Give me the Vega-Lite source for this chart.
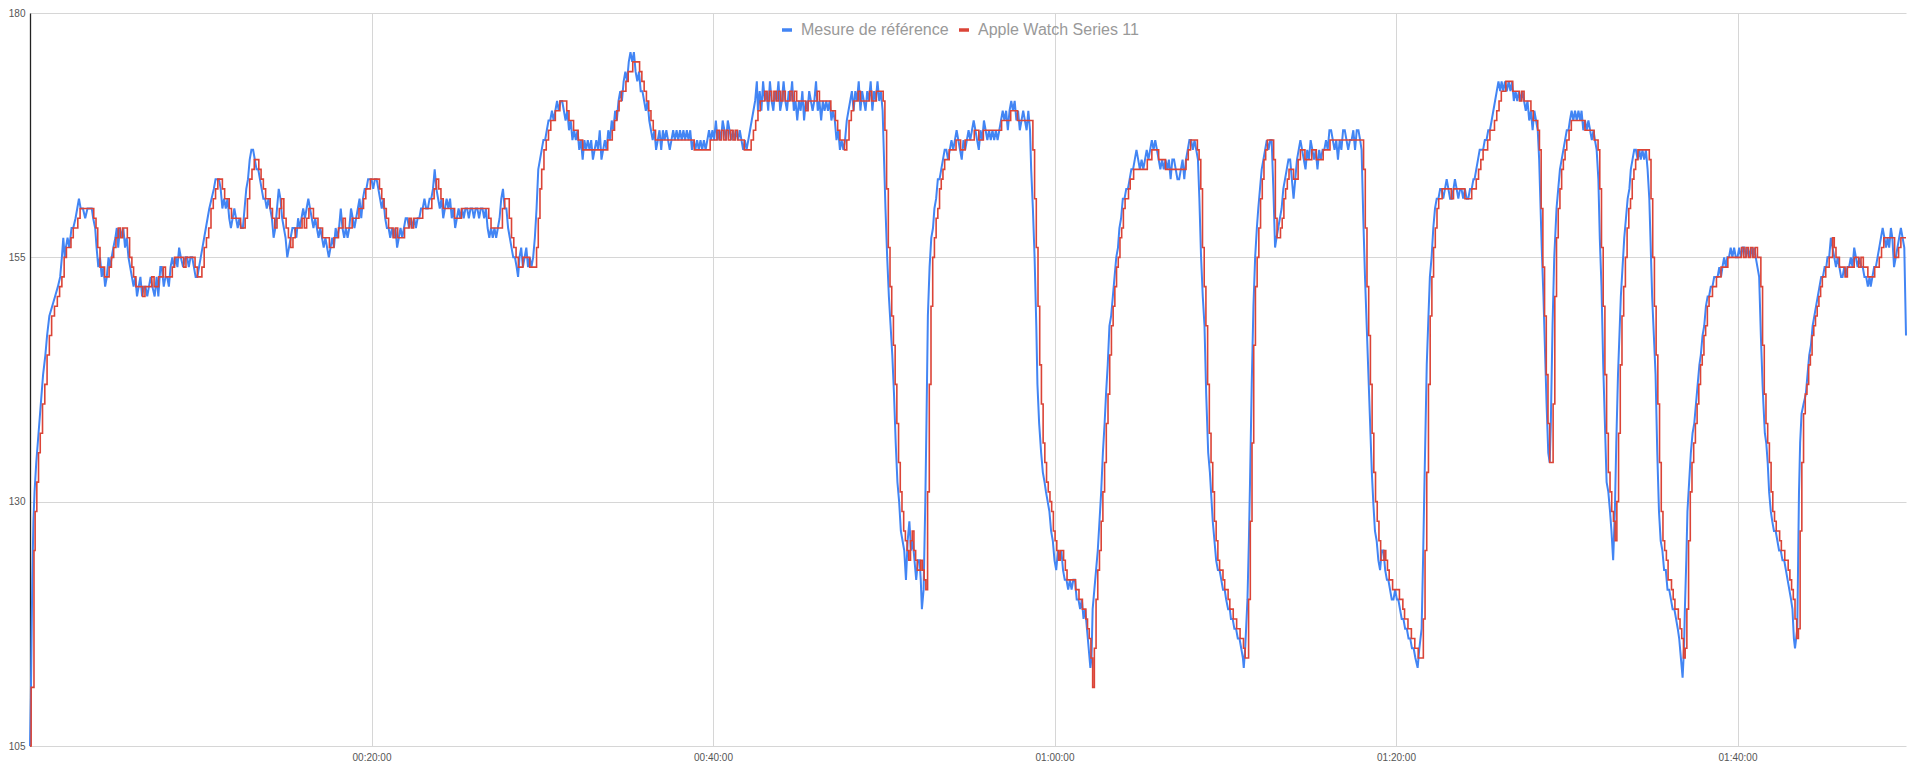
{
  "$schema": "https://vega.github.io/schema/vega-lite/v6.json",
  "width": 1876,
  "height": 733,
  "autosize": {"type": "none"},
  "padding": {"left": 30, "top": 13, "right": 14, "bottom": 19},
  "background": "#ffffff",
  "datasets": {
    "ref": [
      {"t":0,"v":105},{"t":3,"v":110},{"t":8,"v":122},{"t":12,"v":128},{"t":16,"v":131},{"t":22,"v":134},{"t":30,"v":137},{"t":38,"v":140},{"t":46,"v":143},{"t":54,"v":145},{"t":60,"v":147},{"t":68,"v":149},{"t":78,"v":150},{"t":88,"v":151},{"t":98,"v":152},{"t":106,"v":153},{"t":112,"v":155},{"t":117,"v":157},{"t":122,"v":155},{"t":126,"v":156},{"t":132,"v":157},{"t":138,"v":156},{"t":146,"v":158},{"t":152,"v":158},{"t":160,"v":159},{"t":166,"v":160},{"t":172,"v":161},{"t":178,"v":160},{"t":186,"v":160},{"t":194,"v":159},{"t":202,"v":160},{"t":210,"v":160},{"t":217,"v":160},{"t":222,"v":159},{"t":229,"v":158},{"t":234,"v":156},{"t":240,"v":154},{"t":246,"v":155},{"t":252,"v":153},{"t":258,"v":154},{"t":264,"v":152},{"t":270,"v":153},{"t":276,"v":155},{"t":282,"v":154},{"t":287,"v":155},{"t":293,"v":156},{"t":300,"v":157},{"t":305,"v":158},{"t":310,"v":156},{"t":316,"v":158},{"t":322,"v":157},{"t":328,"v":158},{"t":334,"v":156},{"t":340,"v":157},{"t":346,"v":155},{"t":352,"v":154},{"t":358,"v":153},{"t":364,"v":152},{"t":370,"v":153},{"t":376,"v":151},{"t":382,"v":152},{"t":388,"v":153},{"t":394,"v":151},{"t":400,"v":152},{"t":406,"v":152},{"t":412,"v":151},{"t":418,"v":152},{"t":424,"v":153},{"t":430,"v":152},{"t":438,"v":151},{"t":445,"v":153},{"t":451,"v":151},{"t":458,"v":154},{"t":463,"v":154},{"t":470,"v":152},{"t":476,"v":153},{"t":482,"v":153},{"t":488,"v":152},{"t":494,"v":154},{"t":500,"v":155},{"t":506,"v":154},{"t":512,"v":155},{"t":518,"v":154},{"t":524,"v":156},{"t":530,"v":155},{"t":538,"v":154},{"t":546,"v":155},{"t":552,"v":155},{"t":558,"v":154},{"t":564,"v":155},{"t":570,"v":155},{"t":576,"v":154},{"t":582,"v":153},{"t":588,"v":153},{"t":594,"v":154},{"t":600,"v":155},{"t":606,"v":156},{"t":612,"v":157},{"t":618,"v":158},{"t":624,"v":159},{"t":630,"v":160},{"t":638,"v":161},{"t":646,"v":162},{"t":652,"v":163},{"t":658,"v":163},{"t":664,"v":163},{"t":670,"v":162},{"t":676,"v":160},{"t":682,"v":161},{"t":688,"v":160},{"t":694,"v":161},{"t":700,"v":159},{"t":706,"v":158},{"t":712,"v":159},{"t":718,"v":160},{"t":724,"v":159},{"t":730,"v":158},{"t":736,"v":159},{"t":742,"v":158},{"t":748,"v":158},{"t":754,"v":160},{"t":760,"v":162},{"t":766,"v":163},{"t":772,"v":165},{"t":778,"v":166},{"t":784,"v":166},{"t":790,"v":165},{"t":796,"v":164},{"t":802,"v":164},{"t":808,"v":163},{"t":814,"v":162},{"t":820,"v":161},{"t":826,"v":161},{"t":832,"v":160},{"t":838,"v":161},{"t":844,"v":160},{"t":850,"v":159},{"t":856,"v":157},{"t":862,"v":158},{"t":868,"v":160},{"t":874,"v":162},{"t":880,"v":161},{"t":886,"v":159},{"t":892,"v":158},{"t":898,"v":157},{"t":904,"v":155},{"t":910,"v":156},{"t":916,"v":157},{"t":922,"v":158},{"t":930,"v":158},{"t":936,"v":157},{"t":942,"v":159},{"t":948,"v":158},{"t":954,"v":159},{"t":960,"v":160},{"t":966,"v":159},{"t":972,"v":160},{"t":978,"v":161},{"t":984,"v":160},{"t":990,"v":159},{"t":996,"v":158},{"t":1002,"v":159},{"t":1008,"v":158},{"t":1014,"v":157},{"t":1020,"v":158},{"t":1026,"v":157},{"t":1032,"v":156},{"t":1038,"v":157},{"t":1044,"v":156},{"t":1050,"v":155},{"t":1056,"v":156},{"t":1062,"v":157},{"t":1068,"v":156},{"t":1074,"v":158},{"t":1080,"v":157},{"t":1086,"v":158},{"t":1092,"v":160},{"t":1098,"v":158},{"t":1104,"v":157},{"t":1110,"v":158},{"t":1116,"v":157},{"t":1122,"v":158},{"t":1128,"v":160},{"t":1134,"v":159},{"t":1140,"v":158},{"t":1146,"v":159},{"t":1152,"v":160},{"t":1158,"v":161},{"t":1164,"v":159},{"t":1170,"v":161},{"t":1176,"v":162},{"t":1182,"v":162},{"t":1188,"v":163},{"t":1194,"v":163},{"t":1200,"v":163},{"t":1206,"v":162},{"t":1212,"v":163},{"t":1218,"v":163},{"t":1224,"v":162},{"t":1230,"v":161},{"t":1236,"v":160},{"t":1242,"v":161},{"t":1248,"v":159},{"t":1254,"v":158},{"t":1260,"v":158},{"t":1266,"v":157},{"t":1272,"v":158},{"t":1278,"v":157},{"t":1284,"v":158},{"t":1290,"v":156},{"t":1296,"v":157},{"t":1302,"v":158},{"t":1308,"v":157},{"t":1314,"v":158},{"t":1320,"v":159},{"t":1326,"v":159},{"t":1332,"v":158},{"t":1338,"v":159},{"t":1344,"v":158},{"t":1350,"v":159},{"t":1356,"v":158},{"t":1362,"v":159},{"t":1368,"v":159},{"t":1374,"v":160},{"t":1380,"v":160},{"t":1386,"v":161},{"t":1392,"v":160},{"t":1398,"v":160},{"t":1404,"v":161},{"t":1410,"v":161},{"t":1416,"v":162},{"t":1422,"v":164},{"t":1428,"v":162},{"t":1434,"v":161},{"t":1440,"v":160},{"t":1446,"v":161},{"t":1452,"v":159},{"t":1458,"v":160},{"t":1464,"v":161},{"t":1470,"v":160},{"t":1476,"v":161},{"t":1482,"v":159},{"t":1488,"v":160},{"t":1494,"v":158},{"t":1500,"v":159},{"t":1506,"v":160},{"t":1512,"v":159},{"t":1518,"v":160},{"t":1524,"v":159},{"t":1530,"v":160},{"t":1536,"v":160},{"t":1542,"v":159},{"t":1548,"v":160},{"t":1554,"v":160},{"t":1560,"v":159},{"t":1566,"v":160},{"t":1572,"v":160},{"t":1578,"v":159},{"t":1584,"v":160},{"t":1590,"v":160},{"t":1596,"v":159},{"t":1602,"v":160},{"t":1608,"v":158},{"t":1614,"v":157},{"t":1620,"v":158},{"t":1626,"v":157},{"t":1632,"v":158},{"t":1638,"v":157},{"t":1644,"v":158},{"t":1650,"v":159},{"t":1656,"v":161},{"t":1662,"v":162},{"t":1668,"v":160},{"t":1674,"v":160},{"t":1680,"v":158},{"t":1686,"v":157},{"t":1692,"v":156},{"t":1698,"v":155},{"t":1704,"v":155},{"t":1710,"v":154},{"t":1715,"v":153},{"t":1720,"v":155},{"t":1726,"v":156},{"t":1732,"v":154},{"t":1738,"v":155},{"t":1744,"v":156},{"t":1750,"v":154},{"t":1756,"v":155},{"t":1762,"v":154},{"t":1768,"v":155},{"t":1774,"v":157},{"t":1780,"v":160},{"t":1786,"v":164},{"t":1792,"v":165},{"t":1798,"v":166},{"t":1804,"v":167},{"t":1810,"v":167},{"t":1816,"v":168},{"t":1822,"v":169},{"t":1828,"v":169},{"t":1834,"v":170},{"t":1840,"v":169},{"t":1846,"v":170},{"t":1852,"v":171},{"t":1858,"v":170},{"t":1864,"v":171},{"t":1870,"v":171},{"t":1876,"v":170},{"t":1882,"v":169},{"t":1888,"v":170},{"t":1894,"v":168},{"t":1900,"v":169},{"t":1906,"v":167},{"t":1912,"v":168},{"t":1918,"v":167},{"t":1924,"v":168},{"t":1930,"v":166},{"t":1936,"v":167},{"t":1942,"v":165},{"t":1948,"v":167},{"t":1954,"v":166},{"t":1960,"v":167},{"t":1966,"v":166},{"t":1972,"v":167},{"t":1978,"v":165},{"t":1984,"v":166},{"t":1990,"v":167},{"t":1996,"v":166},{"t":2002,"v":168},{"t":2008,"v":165},{"t":2014,"v":166},{"t":2020,"v":167},{"t":2026,"v":166},{"t":2032,"v":168},{"t":2038,"v":167},{"t":2044,"v":169},{"t":2050,"v":168},{"t":2056,"v":170},{"t":2062,"v":169},{"t":2068,"v":171},{"t":2074,"v":172},{"t":2080,"v":171},{"t":2086,"v":173},{"t":2092,"v":174},{"t":2098,"v":173},{"t":2104,"v":175},{"t":2110,"v":176},{"t":2116,"v":175},{"t":2122,"v":176},{"t":2128,"v":174},{"t":2134,"v":173},{"t":2140,"v":174},{"t":2146,"v":172},{"t":2152,"v":172},{"t":2158,"v":171},{"t":2164,"v":170},{"t":2170,"v":171},{"t":2176,"v":169},{"t":2182,"v":168},{"t":2188,"v":167},{"t":2194,"v":168},{"t":2200,"v":166},{"t":2206,"v":167},{"t":2212,"v":168},{"t":2218,"v":166},{"t":2224,"v":168},{"t":2230,"v":167},{"t":2236,"v":168},{"t":2242,"v":167},{"t":2248,"v":166},{"t":2254,"v":167},{"t":2260,"v":168},{"t":2266,"v":167},{"t":2272,"v":168},{"t":2278,"v":167},{"t":2284,"v":168},{"t":2290,"v":167},{"t":2296,"v":168},{"t":2302,"v":167},{"t":2308,"v":168},{"t":2314,"v":167},{"t":2320,"v":168},{"t":2326,"v":166},{"t":2332,"v":167},{"t":2338,"v":166},{"t":2344,"v":167},{"t":2350,"v":166},{"t":2356,"v":167},{"t":2362,"v":166},{"t":2368,"v":167},{"t":2374,"v":166},{"t":2380,"v":167},{"t":2386,"v":168},{"t":2392,"v":167},{"t":2398,"v":168},{"t":2404,"v":167},{"t":2410,"v":169},{"t":2416,"v":167},{"t":2422,"v":168},{"t":2428,"v":167},{"t":2434,"v":169},{"t":2440,"v":168},{"t":2446,"v":167},{"t":2452,"v":169},{"t":2458,"v":168},{"t":2464,"v":167},{"t":2470,"v":168},{"t":2476,"v":167},{"t":2482,"v":168},{"t":2488,"v":167},{"t":2494,"v":168},{"t":2500,"v":167},{"t":2506,"v":166},{"t":2512,"v":167},{"t":2518,"v":166},{"t":2524,"v":167},{"t":2530,"v":168},{"t":2536,"v":169},{"t":2542,"v":170},{"t":2548,"v":171},{"t":2554,"v":173},{"t":2558,"v":170},{"t":2564,"v":172},{"t":2570,"v":170},{"t":2576,"v":173},{"t":2582,"v":171},{"t":2588,"v":172},{"t":2594,"v":170},{"t":2600,"v":173},{"t":2606,"v":171},{"t":2612,"v":170},{"t":2618,"v":172},{"t":2624,"v":171},{"t":2630,"v":173},{"t":2636,"v":170},{"t":2642,"v":171},{"t":2648,"v":173},{"t":2654,"v":171},{"t":2660,"v":170},{"t":2666,"v":172},{"t":2672,"v":171},{"t":2678,"v":173},{"t":2684,"v":170},{"t":2690,"v":171},{"t":2696,"v":169},{"t":2702,"v":171},{"t":2708,"v":170},{"t":2714,"v":172},{"t":2720,"v":169},{"t":2726,"v":171},{"t":2732,"v":170},{"t":2738,"v":172},{"t":2744,"v":171},{"t":2750,"v":170},{"t":2756,"v":171},{"t":2762,"v":173},{"t":2768,"v":170},{"t":2774,"v":171},{"t":2780,"v":169},{"t":2786,"v":171},{"t":2792,"v":170},{"t":2798,"v":171},{"t":2804,"v":170},{"t":2810,"v":171},{"t":2816,"v":169},{"t":2822,"v":170},{"t":2828,"v":169},{"t":2834,"v":167},{"t":2840,"v":168},{"t":2846,"v":166},{"t":2852,"v":167},{"t":2858,"v":166},{"t":2864,"v":167},{"t":2870,"v":169},{"t":2876,"v":170},{"t":2882,"v":171},{"t":2888,"v":172},{"t":2894,"v":170},{"t":2900,"v":172},{"t":2906,"v":171},{"t":2912,"v":173},{"t":2918,"v":170},{"t":2924,"v":172},{"t":2930,"v":171},{"t":2936,"v":170},{"t":2942,"v":172},{"t":2948,"v":171},{"t":2954,"v":173},{"t":2960,"v":170},{"t":2966,"v":172},{"t":2972,"v":171},{"t":2978,"v":173},{"t":2984,"v":171},{"t":2990,"v":172},{"t":2996,"v":170},{"t":3000,"v":166},{"t":3006,"v":160},{"t":3012,"v":155},{"t":3018,"v":151},{"t":3024,"v":148},{"t":3030,"v":145},{"t":3036,"v":141},{"t":3042,"v":136},{"t":3048,"v":132},{"t":3054,"v":130},{"t":3060,"v":127},{"t":3066,"v":126},{"t":3072,"v":125},{"t":3078,"v":122},{"t":3084,"v":126},{"t":3090,"v":128},{"t":3096,"v":125},{"t":3102,"v":126},{"t":3108,"v":124},{"t":3114,"v":122},{"t":3120,"v":124},{"t":3126,"v":124},{"t":3130,"v":122},{"t":3134,"v":119},{"t":3140,"v":121},{"t":3146,"v":130},{"t":3150,"v":138},{"t":3155,"v":149},{"t":3161,"v":154},{"t":3167,"v":157},{"t":3173,"v":158},{"t":3178,"v":160},{"t":3184,"v":161},{"t":3190,"v":163},{"t":3196,"v":163},{"t":3202,"v":164},{"t":3208,"v":165},{"t":3214,"v":166},{"t":3220,"v":166},{"t":3226,"v":165},{"t":3232,"v":166},{"t":3238,"v":167},{"t":3244,"v":166},{"t":3250,"v":167},{"t":3256,"v":168},{"t":3262,"v":167},{"t":3268,"v":166},{"t":3274,"v":165},{"t":3280,"v":167},{"t":3286,"v":166},{"t":3292,"v":167},{"t":3298,"v":168},{"t":3304,"v":167},{"t":3310,"v":168},{"t":3316,"v":169},{"t":3322,"v":168},{"t":3328,"v":167},{"t":3334,"v":166},{"t":3340,"v":168},{"t":3346,"v":167},{"t":3352,"v":169},{"t":3358,"v":168},{"t":3364,"v":167},{"t":3370,"v":168},{"t":3376,"v":167},{"t":3382,"v":168},{"t":3388,"v":167},{"t":3394,"v":168},{"t":3400,"v":167},{"t":3406,"v":168},{"t":3412,"v":169},{"t":3418,"v":170},{"t":3424,"v":169},{"t":3430,"v":170},{"t":3436,"v":168},{"t":3442,"v":170},{"t":3448,"v":171},{"t":3454,"v":170},{"t":3460,"v":171},{"t":3466,"v":169},{"t":3472,"v":170},{"t":3478,"v":168},{"t":3484,"v":169},{"t":3490,"v":170},{"t":3496,"v":169},{"t":3502,"v":168},{"t":3508,"v":170},{"t":3514,"v":168},{"t":3518,"v":164},{"t":3524,"v":160},{"t":3530,"v":155},{"t":3536,"v":148},{"t":3540,"v":142},{"t":3546,"v":138},{"t":3553,"v":135},{"t":3559,"v":133},{"t":3565,"v":132},{"t":3570,"v":131},{"t":3576,"v":130},{"t":3582,"v":129},{"t":3588,"v":127},{"t":3594,"v":126},{"t":3600,"v":124},{"t":3606,"v":123},{"t":3612,"v":125},{"t":3618,"v":124},{"t":3624,"v":125},{"t":3630,"v":123},{"t":3636,"v":122},{"t":3642,"v":122},{"t":3648,"v":121},{"t":3654,"v":122},{"t":3660,"v":121},{"t":3666,"v":122},{"t":3672,"v":122},{"t":3678,"v":120},{"t":3684,"v":120},{"t":3690,"v":119},{"t":3696,"v":120},{"t":3702,"v":118},{"t":3708,"v":119},{"t":3714,"v":117},{"t":3720,"v":115},{"t":3726,"v":113},{"t":3730,"v":114},{"t":3734,"v":119},{"t":3740,"v":121},{"t":3746,"v":123},{"t":3752,"v":125},{"t":3758,"v":128},{"t":3764,"v":131},{"t":3770,"v":135},{"t":3776,"v":138},{"t":3781,"v":141},{"t":3787,"v":144},{"t":3793,"v":148},{"t":3799,"v":149},{"t":3805,"v":151},{"t":3811,"v":153},{"t":3817,"v":155},{"t":3823,"v":156},{"t":3828,"v":158},{"t":3834,"v":159},{"t":3840,"v":161},{"t":3846,"v":161},{"t":3852,"v":162},{"t":3858,"v":162},{"t":3864,"v":163},{"t":3870,"v":164},{"t":3876,"v":164},{"t":3882,"v":165},{"t":3888,"v":166},{"t":3894,"v":165},{"t":3900,"v":164},{"t":3906,"v":165},{"t":3912,"v":164},{"t":3918,"v":165},{"t":3924,"v":166},{"t":3930,"v":165},{"t":3936,"v":166},{"t":3942,"v":167},{"t":3948,"v":166},{"t":3954,"v":167},{"t":3960,"v":166},{"t":3966,"v":165},{"t":3972,"v":164},{"t":3978,"v":165},{"t":3984,"v":164},{"t":3990,"v":165},{"t":3996,"v":164},{"t":4002,"v":165},{"t":4008,"v":163},{"t":4014,"v":165},{"t":4020,"v":165},{"t":4026,"v":164},{"t":4032,"v":163},{"t":4038,"v":163},{"t":4044,"v":164},{"t":4050,"v":165},{"t":4056,"v":163},{"t":4062,"v":165},{"t":4068,"v":166},{"t":4074,"v":167},{"t":4080,"v":167},{"t":4086,"v":166},{"t":4092,"v":167},{"t":4098,"v":166},{"t":4104,"v":165},{"t":4109,"v":161},{"t":4115,"v":155},{"t":4121,"v":151},{"t":4127,"v":148},{"t":4133,"v":141},{"t":4140,"v":135},{"t":4146,"v":133},{"t":4150,"v":131},{"t":4156,"v":128},{"t":4162,"v":126},{"t":4168,"v":124},{"t":4174,"v":123},{"t":4180,"v":123},{"t":4186,"v":122},{"t":4192,"v":121},{"t":4198,"v":121},{"t":4203,"v":120},{"t":4210,"v":119},{"t":4216,"v":119},{"t":4220,"v":118},{"t":4226,"v":118},{"t":4232,"v":117},{"t":4238,"v":117},{"t":4244,"v":116},{"t":4250,"v":116},{"t":4256,"v":115},{"t":4262,"v":114},{"t":4265,"v":113},{"t":4270,"v":115},{"t":4278,"v":120},{"t":4283,"v":126},{"t":4287,"v":132},{"t":4293,"v":142},{"t":4299,"v":150},{"t":4305,"v":155},{"t":4311,"v":158},{"t":4316,"v":160},{"t":4322,"v":162},{"t":4328,"v":164},{"t":4334,"v":165},{"t":4340,"v":166},{"t":4346,"v":167},{"t":4352,"v":166},{"t":4358,"v":167},{"t":4363,"v":167},{"t":4369,"v":162},{"t":4375,"v":156},{"t":4380,"v":157},{"t":4386,"v":158},{"t":4392,"v":159},{"t":4398,"v":160},{"t":4404,"v":162},{"t":4410,"v":163},{"t":4416,"v":164},{"t":4422,"v":165},{"t":4428,"v":165},{"t":4434,"v":163},{"t":4440,"v":161},{"t":4446,"v":163},{"t":4452,"v":165},{"t":4458,"v":166},{"t":4464,"v":167},{"t":4470,"v":166},{"t":4476,"v":165},{"t":4482,"v":164},{"t":4488,"v":166},{"t":4494,"v":165},{"t":4500,"v":167},{"t":4506,"v":166},{"t":4512,"v":165},{"t":4518,"v":166},{"t":4524,"v":164},{"t":4530,"v":166},{"t":4536,"v":165},{"t":4542,"v":166},{"t":4548,"v":166},{"t":4554,"v":167},{"t":4560,"v":166},{"t":4566,"v":168},{"t":4572,"v":168},{"t":4578,"v":167},{"t":4584,"v":166},{"t":4590,"v":167},{"t":4596,"v":165},{"t":4602,"v":167},{"t":4608,"v":166},{"t":4614,"v":168},{"t":4620,"v":168},{"t":4626,"v":167},{"t":4632,"v":166},{"t":4638,"v":167},{"t":4644,"v":167},{"t":4650,"v":168},{"t":4656,"v":166},{"t":4662,"v":168},{"t":4668,"v":168},{"t":4674,"v":167},{"t":4679,"v":166},{"t":4685,"v":159},{"t":4691,"v":153},{"t":4697,"v":148},{"t":4703,"v":143},{"t":4709,"v":138},{"t":4715,"v":133},{"t":4720,"v":130},{"t":4726,"v":127},{"t":4732,"v":126},{"t":4738,"v":124},{"t":4744,"v":123},{"t":4750,"v":125},{"t":4756,"v":125},{"t":4762,"v":123},{"t":4768,"v":122},{"t":4773,"v":122},{"t":4779,"v":121},{"t":4785,"v":120},{"t":4791,"v":120},{"t":4797,"v":121},{"t":4803,"v":120},{"t":4808,"v":120},{"t":4814,"v":119},{"t":4820,"v":118},{"t":4826,"v":118},{"t":4832,"v":117},{"t":4838,"v":117},{"t":4844,"v":116},{"t":4850,"v":116},{"t":4856,"v":115},{"t":4862,"v":115},{"t":4868,"v":114},{"t":4876,"v":113},{"t":4882,"v":115},{"t":4890,"v":117},{"t":4895,"v":124},{"t":4900,"v":132},{"t":4904,"v":138},{"t":4908,"v":144},{"t":4914,"v":149},{"t":4919,"v":153},{"t":4925,"v":155},{"t":4931,"v":158},{"t":4937,"v":160},{"t":4943,"v":161},{"t":4949,"v":161},{"t":4955,"v":162},{"t":4960,"v":162},{"t":4966,"v":161},{"t":4972,"v":162},{"t":4978,"v":163},{"t":4984,"v":162},{"t":4990,"v":161},{"t":4996,"v":161},{"t":5002,"v":162},{"t":5007,"v":163},{"t":5013,"v":162},{"t":5019,"v":161},{"t":5025,"v":162},{"t":5030,"v":162},{"t":5036,"v":161},{"t":5042,"v":162},{"t":5048,"v":161},{"t":5054,"v":161},{"t":5060,"v":162},{"t":5066,"v":162},{"t":5072,"v":163},{"t":5076,"v":163},{"t":5082,"v":164},{"t":5088,"v":165},{"t":5094,"v":166},{"t":5100,"v":166},{"t":5106,"v":166},{"t":5112,"v":167},{"t":5118,"v":167},{"t":5124,"v":168},{"t":5130,"v":168},{"t":5136,"v":169},{"t":5142,"v":170},{"t":5148,"v":171},{"t":5154,"v":172},{"t":5160,"v":173},{"t":5166,"v":172},{"t":5171,"v":173},{"t":5177,"v":172},{"t":5183,"v":173},{"t":5189,"v":172},{"t":5196,"v":173},{"t":5202,"v":172},{"t":5208,"v":173},{"t":5214,"v":171},{"t":5220,"v":172},{"t":5226,"v":171},{"t":5232,"v":172},{"t":5238,"v":171},{"t":5244,"v":172},{"t":5250,"v":171},{"t":5256,"v":170},{"t":5262,"v":171},{"t":5268,"v":169},{"t":5274,"v":170},{"t":5280,"v":168},{"t":5286,"v":170},{"t":5292,"v":169},{"t":5298,"v":168},{"t":5303,"v":165},{"t":5306,"v":162},{"t":5312,"v":156},{"t":5318,"v":151},{"t":5323,"v":146},{"t":5329,"v":140},{"t":5335,"v":135},{"t":5340,"v":134},{"t":5344,"v":138},{"t":5350,"v":148},{"t":5356,"v":155},{"t":5364,"v":160},{"t":5370,"v":162},{"t":5376,"v":164},{"t":5382,"v":165},{"t":5388,"v":166},{"t":5394,"v":167},{"t":5400,"v":168},{"t":5406,"v":168},{"t":5411,"v":169},{"t":5417,"v":170},{"t":5423,"v":169},{"t":5429,"v":170},{"t":5435,"v":169},{"t":5441,"v":170},{"t":5447,"v":169},{"t":5452,"v":170},{"t":5458,"v":168},{"t":5464,"v":169},{"t":5470,"v":168},{"t":5476,"v":169},{"t":5482,"v":168},{"t":5488,"v":167},{"t":5494,"v":168},{"t":5499,"v":167},{"t":5505,"v":166},{"t":5511,"v":163},{"t":5516,"v":157},{"t":5522,"v":152},{"t":5528,"v":144},{"t":5534,"v":138},{"t":5540,"v":132},{"t":5546,"v":131},{"t":5552,"v":129},{"t":5557,"v":127},{"t":5563,"v":124},{"t":5569,"v":129},{"t":5574,"v":136},{"t":5580,"v":143},{"t":5585,"v":147},{"t":5590,"v":151},{"t":5596,"v":154},{"t":5602,"v":157},{"t":5608,"v":159},{"t":5614,"v":161},{"t":5620,"v":162},{"t":5625,"v":164},{"t":5631,"v":165},{"t":5637,"v":166},{"t":5643,"v":166},{"t":5649,"v":165},{"t":5655,"v":166},{"t":5660,"v":165},{"t":5666,"v":166},{"t":5672,"v":165},{"t":5678,"v":166},{"t":5684,"v":164},{"t":5690,"v":161},{"t":5695,"v":156},{"t":5700,"v":151},{"t":5706,"v":147},{"t":5712,"v":143},{"t":5718,"v":135},{"t":5724,"v":129},{"t":5730,"v":126},{"t":5736,"v":125},{"t":5742,"v":123},{"t":5748,"v":123},{"t":5754,"v":121},{"t":5760,"v":121},{"t":5766,"v":120},{"t":5772,"v":119},{"t":5778,"v":119},{"t":5784,"v":118},{"t":5790,"v":117},{"t":5795,"v":116},{"t":5801,"v":114},{"t":5807,"v":112},{"t":5812,"v":115},{"t":5815,"v":119},{"t":5820,"v":124},{"t":5824,"v":129},{"t":5830,"v":132},{"t":5836,"v":135},{"t":5842,"v":137},{"t":5848,"v":138},{"t":5854,"v":140},{"t":5860,"v":142},{"t":5866,"v":144},{"t":5871,"v":145},{"t":5877,"v":147},{"t":5883,"v":148},{"t":5889,"v":150},{"t":5895,"v":151},{"t":5900,"v":151},{"t":5906,"v":152},{"t":5912,"v":152},{"t":5918,"v":153},{"t":5924,"v":153},{"t":5930,"v":153},{"t":5936,"v":154},{"t":5942,"v":153},{"t":5947,"v":154},{"t":5953,"v":155},{"t":5959,"v":154},{"t":5964,"v":155},{"t":5970,"v":155},{"t":5976,"v":156},{"t":5982,"v":155},{"t":5988,"v":156},{"t":5994,"v":155},{"t":6000,"v":155},{"t":6006,"v":156},{"t":6012,"v":155},{"t":6018,"v":156},{"t":6024,"v":156},{"t":6030,"v":155},{"t":6036,"v":156},{"t":6042,"v":155},{"t":6048,"v":156},{"t":6054,"v":155},{"t":6059,"v":156},{"t":6064,"v":155},{"t":6070,"v":154},{"t":6076,"v":153},{"t":6082,"v":147},{"t":6088,"v":142},{"t":6091,"v":140},{"t":6096,"v":137},{"t":6101,"v":136},{"t":6106,"v":134},{"t":6111,"v":131},{"t":6117,"v":129},{"t":6122,"v":128},{"t":6128,"v":127},{"t":6134,"v":127},{"t":6140,"v":126},{"t":6146,"v":125},{"t":6152,"v":125},{"t":6158,"v":124},{"t":6164,"v":124},{"t":6170,"v":123},{"t":6176,"v":122},{"t":6182,"v":121},{"t":6188,"v":120},{"t":6193,"v":119},{"t":6198,"v":116},{"t":6202,"v":115},{"t":6206,"v":116},{"t":6210,"v":117},{"t":6213,"v":124},{"t":6216,"v":131},{"t":6220,"v":136},{"t":6225,"v":139},{"t":6232,"v":140},{"t":6240,"v":141},{"t":6246,"v":143},{"t":6252,"v":145},{"t":6258,"v":146},{"t":6264,"v":148},{"t":6270,"v":149},{"t":6276,"v":150},{"t":6282,"v":151},{"t":6288,"v":152},{"t":6294,"v":153},{"t":6300,"v":153},{"t":6306,"v":154},{"t":6312,"v":154},{"t":6316,"v":155},{"t":6322,"v":155},{"t":6328,"v":157},{"t":6334,"v":156},{"t":6340,"v":155},{"t":6346,"v":154},{"t":6352,"v":155},{"t":6358,"v":154},{"t":6364,"v":153},{"t":6369,"v":153},{"t":6375,"v":154},{"t":6381,"v":153},{"t":6386,"v":154},{"t":6392,"v":154},{"t":6398,"v":155},{"t":6404,"v":154},{"t":6410,"v":156},{"t":6416,"v":155},{"t":6422,"v":154},{"t":6428,"v":155},{"t":6434,"v":154},{"t":6440,"v":154},{"t":6446,"v":153},{"t":6452,"v":153},{"t":6458,"v":152},{"t":6464,"v":153},{"t":6468,"v":152},{"t":6474,"v":153},{"t":6480,"v":154},{"t":6486,"v":154},{"t":6492,"v":155},{"t":6498,"v":156},{"t":6504,"v":157},{"t":6510,"v":158},{"t":6516,"v":157},{"t":6522,"v":156},{"t":6527,"v":157},{"t":6533,"v":156},{"t":6539,"v":158},{"t":6544,"v":157},{"t":6550,"v":154},{"t":6556,"v":155},{"t":6562,"v":156},{"t":6568,"v":157},{"t":6574,"v":158},{"t":6580,"v":157},{"t":6586,"v":156},{"t":6592,"v":147}
    ],
    "aw": [
      {"t":0,"v":105},{"t":4,"v":111},{"t":14,"v":125},{"t":18,"v":129},{"t":24,"v":132},{"t":30,"v":135},{"t":36,"v":137},{"t":44,"v":140},{"t":52,"v":142},{"t":60,"v":145},{"t":68,"v":147},{"t":76,"v":149},{"t":86,"v":150},{"t":96,"v":151},{"t":104,"v":152},{"t":112,"v":153},{"t":120,"v":155},{"t":128,"v":156},{"t":136,"v":156},{"t":144,"v":157},{"t":152,"v":158},{"t":160,"v":158},{"t":168,"v":159},{"t":176,"v":160},{"t":216,"v":160},{"t":224,"v":159},{"t":232,"v":158},{"t":238,"v":156},{"t":246,"v":154},{"t":262,"v":153},{"t":278,"v":154},{"t":286,"v":155},{"t":294,"v":156},{"t":302,"v":157},{"t":310,"v":158},{"t":318,"v":157},{"t":326,"v":158},{"t":342,"v":157},{"t":350,"v":155},{"t":358,"v":154},{"t":364,"v":153},{"t":372,"v":152},{"t":396,"v":151},{"t":404,"v":152},{"t":428,"v":153},{"t":436,"v":152},{"t":452,"v":153},{"t":468,"v":154},{"t":476,"v":153},{"t":500,"v":154},{"t":508,"v":155},{"t":540,"v":154},{"t":548,"v":155},{"t":580,"v":154},{"t":588,"v":153},{"t":604,"v":154},{"t":612,"v":156},{"t":620,"v":157},{"t":628,"v":158},{"t":636,"v":160},{"t":644,"v":161},{"t":652,"v":162},{"t":660,"v":163},{"t":676,"v":162},{"t":684,"v":161},{"t":700,"v":160},{"t":708,"v":159},{"t":740,"v":158},{"t":756,"v":159},{"t":764,"v":161},{"t":772,"v":163},{"t":780,"v":164},{"t":788,"v":165},{"t":804,"v":164},{"t":812,"v":163},{"t":820,"v":162},{"t":828,"v":161},{"t":844,"v":160},{"t":852,"v":159},{"t":860,"v":158},{"t":868,"v":159},{"t":876,"v":160},{"t":884,"v":161},{"t":892,"v":159},{"t":900,"v":158},{"t":908,"v":157},{"t":916,"v":156},{"t":924,"v":157},{"t":932,"v":158},{"t":956,"v":159},{"t":964,"v":158},{"t":972,"v":159},{"t":980,"v":160},{"t":996,"v":159},{"t":1012,"v":158},{"t":1028,"v":157},{"t":1052,"v":156},{"t":1068,"v":157},{"t":1084,"v":158},{"t":1100,"v":159},{"t":1108,"v":158},{"t":1132,"v":159},{"t":1156,"v":160},{"t":1172,"v":161},{"t":1180,"v":162},{"t":1196,"v":163},{"t":1228,"v":162},{"t":1236,"v":161},{"t":1244,"v":160},{"t":1252,"v":159},{"t":1260,"v":158},{"t":1276,"v":157},{"t":1284,"v":158},{"t":1292,"v":157},{"t":1316,"v":158},{"t":1332,"v":159},{"t":1340,"v":158},{"t":1348,"v":159},{"t":1380,"v":160},{"t":1412,"v":161},{"t":1420,"v":162},{"t":1428,"v":163},{"t":1436,"v":162},{"t":1444,"v":161},{"t":1452,"v":160},{"t":1492,"v":159},{"t":1516,"v":160},{"t":1612,"v":159},{"t":1620,"v":158},{"t":1660,"v":160},{"t":1668,"v":161},{"t":1684,"v":159},{"t":1692,"v":157},{"t":1700,"v":156},{"t":1708,"v":155},{"t":1716,"v":154},{"t":1732,"v":155},{"t":1756,"v":154},{"t":1780,"v":156},{"t":1786,"v":159},{"t":1792,"v":162},{"t":1798,"v":164},{"t":1806,"v":166},{"t":1814,"v":167},{"t":1822,"v":168},{"t":1830,"v":169},{"t":1846,"v":170},{"t":1862,"v":171},{"t":1886,"v":170},{"t":1894,"v":169},{"t":1910,"v":168},{"t":1926,"v":167},{"t":1942,"v":166},{"t":2030,"v":167},{"t":2046,"v":168},{"t":2054,"v":169},{"t":2062,"v":170},{"t":2070,"v":171},{"t":2078,"v":172},{"t":2094,"v":173},{"t":2102,"v":174},{"t":2118,"v":175},{"t":2142,"v":174},{"t":2150,"v":173},{"t":2158,"v":172},{"t":2166,"v":171},{"t":2174,"v":170},{"t":2182,"v":169},{"t":2190,"v":168},{"t":2198,"v":167},{"t":2334,"v":166},{"t":2390,"v":167},{"t":2414,"v":168},{"t":2422,"v":167},{"t":2430,"v":168},{"t":2438,"v":167},{"t":2446,"v":168},{"t":2454,"v":167},{"t":2462,"v":168},{"t":2470,"v":167},{"t":2478,"v":168},{"t":2486,"v":167},{"t":2510,"v":166},{"t":2534,"v":167},{"t":2542,"v":168},{"t":2550,"v":169},{"t":2558,"v":170},{"t":2566,"v":171},{"t":2582,"v":172},{"t":2590,"v":171},{"t":2598,"v":172},{"t":2606,"v":171},{"t":2614,"v":172},{"t":2622,"v":171},{"t":2630,"v":172},{"t":2638,"v":171},{"t":2646,"v":172},{"t":2654,"v":171},{"t":2670,"v":172},{"t":2678,"v":171},{"t":2686,"v":172},{"t":2694,"v":171},{"t":2726,"v":170},{"t":2734,"v":171},{"t":2766,"v":172},{"t":2774,"v":171},{"t":2814,"v":170},{"t":2830,"v":169},{"t":2838,"v":168},{"t":2846,"v":167},{"t":2862,"v":166},{"t":2870,"v":167},{"t":2878,"v":169},{"t":2886,"v":170},{"t":2894,"v":171},{"t":2910,"v":172},{"t":2918,"v":171},{"t":2950,"v":172},{"t":2958,"v":171},{"t":2974,"v":172},{"t":2998,"v":171},{"t":3004,"v":168},{"t":3010,"v":162},{"t":3016,"v":156},{"t":3022,"v":152},{"t":3028,"v":149},{"t":3034,"v":146},{"t":3040,"v":142},{"t":3046,"v":138},{"t":3052,"v":134},{"t":3058,"v":131},{"t":3064,"v":129},{"t":3070,"v":127},{"t":3076,"v":126},{"t":3082,"v":125},{"t":3088,"v":124},{"t":3094,"v":126},{"t":3100,"v":127},{"t":3106,"v":125},{"t":3112,"v":124},{"t":3118,"v":123},{"t":3130,"v":124},{"t":3136,"v":123},{"t":3142,"v":122},{"t":3148,"v":121},{"t":3154,"v":131},{"t":3160,"v":142},{"t":3166,"v":150},{"t":3172,"v":155},{"t":3178,"v":157},{"t":3184,"v":159},{"t":3190,"v":160},{"t":3196,"v":162},{"t":3202,"v":163},{"t":3208,"v":164},{"t":3214,"v":165},{"t":3230,"v":166},{"t":3254,"v":167},{"t":3270,"v":166},{"t":3286,"v":167},{"t":3318,"v":168},{"t":3334,"v":167},{"t":3350,"v":168},{"t":3414,"v":169},{"t":3446,"v":170},{"t":3470,"v":169},{"t":3518,"v":169},{"t":3524,"v":166},{"t":3530,"v":161},{"t":3536,"v":156},{"t":3542,"v":150},{"t":3548,"v":144},{"t":3554,"v":140},{"t":3560,"v":136},{"t":3566,"v":134},{"t":3572,"v":132},{"t":3578,"v":131},{"t":3584,"v":130},{"t":3590,"v":129},{"t":3596,"v":127},{"t":3602,"v":126},{"t":3608,"v":125},{"t":3614,"v":124},{"t":3620,"v":125},{"t":3632,"v":124},{"t":3638,"v":123},{"t":3644,"v":122},{"t":3674,"v":121},{"t":3686,"v":120},{"t":3698,"v":119},{"t":3710,"v":118},{"t":3716,"v":117},{"t":3722,"v":116},{"t":3728,"v":114},{"t":3734,"v":111},{"t":3740,"v":115},{"t":3746,"v":120},{"t":3752,"v":123},{"t":3758,"v":125},{"t":3764,"v":128},{"t":3770,"v":131},{"t":3776,"v":134},{"t":3782,"v":138},{"t":3788,"v":141},{"t":3794,"v":145},{"t":3800,"v":148},{"t":3806,"v":150},{"t":3812,"v":152},{"t":3818,"v":154},{"t":3824,"v":155},{"t":3830,"v":157},{"t":3836,"v":158},{"t":3842,"v":160},{"t":3848,"v":161},{"t":3860,"v":162},{"t":3866,"v":163},{"t":3878,"v":164},{"t":3926,"v":165},{"t":3942,"v":166},{"t":3966,"v":165},{"t":3990,"v":164},{"t":4062,"v":165},{"t":4070,"v":166},{"t":4078,"v":167},{"t":4102,"v":166},{"t":4108,"v":165},{"t":4114,"v":162},{"t":4120,"v":156},{"t":4126,"v":152},{"t":4132,"v":148},{"t":4138,"v":142},{"t":4144,"v":137},{"t":4150,"v":134},{"t":4156,"v":131},{"t":4162,"v":128},{"t":4168,"v":126},{"t":4174,"v":124},{"t":4180,"v":123},{"t":4192,"v":122},{"t":4198,"v":121},{"t":4210,"v":120},{"t":4216,"v":119},{"t":4228,"v":118},{"t":4240,"v":117},{"t":4252,"v":116},{"t":4264,"v":115},{"t":4270,"v":114},{"t":4282,"v":120},{"t":4288,"v":128},{"t":4294,"v":136},{"t":4300,"v":146},{"t":4306,"v":152},{"t":4312,"v":155},{"t":4318,"v":158},{"t":4324,"v":161},{"t":4330,"v":163},{"t":4336,"v":165},{"t":4342,"v":166},{"t":4348,"v":167},{"t":4370,"v":165},{"t":4376,"v":159},{"t":4382,"v":157},{"t":4394,"v":158},{"t":4400,"v":159},{"t":4406,"v":161},{"t":4412,"v":162},{"t":4418,"v":163},{"t":4424,"v":164},{"t":4440,"v":163},{"t":4456,"v":165},{"t":4464,"v":166},{"t":4480,"v":165},{"t":4504,"v":166},{"t":4520,"v":165},{"t":4544,"v":166},{"t":4568,"v":167},{"t":4680,"v":167},{"t":4686,"v":164},{"t":4692,"v":158},{"t":4698,"v":152},{"t":4704,"v":147},{"t":4710,"v":142},{"t":4716,"v":137},{"t":4722,"v":133},{"t":4728,"v":130},{"t":4734,"v":128},{"t":4740,"v":126},{"t":4746,"v":124},{"t":4758,"v":125},{"t":4764,"v":124},{"t":4770,"v":123},{"t":4776,"v":122},{"t":4788,"v":121},{"t":4812,"v":120},{"t":4824,"v":119},{"t":4830,"v":118},{"t":4842,"v":117},{"t":4854,"v":116},{"t":4866,"v":115},{"t":4878,"v":114},{"t":4896,"v":118},{"t":4902,"v":125},{"t":4908,"v":133},{"t":4914,"v":142},{"t":4920,"v":149},{"t":4926,"v":153},{"t":4932,"v":156},{"t":4938,"v":158},{"t":4944,"v":160},{"t":4950,"v":161},{"t":4962,"v":162},{"t":4994,"v":161},{"t":5002,"v":162},{"t":5042,"v":161},{"t":5066,"v":162},{"t":5082,"v":163},{"t":5090,"v":164},{"t":5098,"v":165},{"t":5106,"v":166},{"t":5122,"v":167},{"t":5130,"v":168},{"t":5146,"v":169},{"t":5154,"v":170},{"t":5162,"v":171},{"t":5170,"v":172},{"t":5186,"v":173},{"t":5210,"v":172},{"t":5234,"v":171},{"t":5242,"v":172},{"t":5250,"v":171},{"t":5274,"v":170},{"t":5282,"v":169},{"t":5298,"v":168},{"t":5304,"v":166},{"t":5310,"v":160},{"t":5316,"v":154},{"t":5322,"v":149},{"t":5328,"v":143},{"t":5334,"v":138},{"t":5340,"v":134},{"t":5352,"v":140},{"t":5358,"v":151},{"t":5364,"v":157},{"t":5370,"v":160},{"t":5376,"v":162},{"t":5382,"v":164},{"t":5388,"v":165},{"t":5394,"v":166},{"t":5400,"v":167},{"t":5408,"v":168},{"t":5416,"v":169},{"t":5464,"v":168},{"t":5496,"v":167},{"t":5510,"v":166},{"t":5516,"v":162},{"t":5522,"v":156},{"t":5528,"v":150},{"t":5534,"v":143},{"t":5540,"v":137},{"t":5546,"v":133},{"t":5552,"v":131},{"t":5558,"v":129},{"t":5564,"v":128},{"t":5570,"v":126},{"t":5576,"v":130},{"t":5582,"v":137},{"t":5588,"v":144},{"t":5594,"v":149},{"t":5600,"v":152},{"t":5606,"v":155},{"t":5612,"v":158},{"t":5618,"v":160},{"t":5624,"v":161},{"t":5630,"v":163},{"t":5636,"v":164},{"t":5642,"v":165},{"t":5650,"v":166},{"t":5690,"v":165},{"t":5696,"v":161},{"t":5702,"v":155},{"t":5708,"v":150},{"t":5714,"v":145},{"t":5720,"v":140},{"t":5726,"v":134},{"t":5732,"v":129},{"t":5738,"v":126},{"t":5744,"v":125},{"t":5750,"v":124},{"t":5756,"v":122},{"t":5768,"v":121},{"t":5774,"v":120},{"t":5780,"v":119},{"t":5792,"v":118},{"t":5798,"v":117},{"t":5804,"v":116},{"t":5810,"v":114},{"t":5816,"v":115},{"t":5822,"v":119},{"t":5828,"v":126},{"t":5834,"v":131},{"t":5840,"v":134},{"t":5846,"v":136},{"t":5852,"v":138},{"t":5858,"v":140},{"t":5864,"v":142},{"t":5870,"v":144},{"t":5876,"v":145},{"t":5882,"v":147},{"t":5888,"v":148},{"t":5894,"v":150},{"t":5900,"v":151},{"t":5912,"v":152},{"t":5926,"v":153},{"t":5942,"v":154},{"t":5966,"v":155},{"t":6014,"v":156},{"t":6022,"v":155},{"t":6030,"v":156},{"t":6038,"v":155},{"t":6046,"v":156},{"t":6054,"v":155},{"t":6062,"v":156},{"t":6070,"v":155},{"t":6082,"v":152},{"t":6088,"v":146},{"t":6094,"v":141},{"t":6100,"v":138},{"t":6106,"v":136},{"t":6112,"v":134},{"t":6118,"v":131},{"t":6124,"v":129},{"t":6130,"v":128},{"t":6136,"v":127},{"t":6148,"v":126},{"t":6154,"v":125},{"t":6166,"v":124},{"t":6178,"v":123},{"t":6184,"v":122},{"t":6190,"v":121},{"t":6196,"v":120},{"t":6202,"v":118},{"t":6208,"v":116},{"t":6214,"v":117},{"t":6220,"v":127},{"t":6226,"v":134},{"t":6232,"v":139},{"t":6238,"v":141},{"t":6244,"v":142},{"t":6250,"v":144},{"t":6256,"v":145},{"t":6262,"v":147},{"t":6268,"v":148},{"t":6274,"v":149},{"t":6280,"v":150},{"t":6286,"v":151},{"t":6292,"v":152},{"t":6298,"v":153},{"t":6310,"v":154},{"t":6322,"v":155},{"t":6334,"v":157},{"t":6340,"v":156},{"t":6346,"v":155},{"t":6358,"v":154},{"t":6378,"v":153},{"t":6386,"v":154},{"t":6410,"v":155},{"t":6426,"v":154},{"t":6434,"v":155},{"t":6442,"v":154},{"t":6458,"v":153},{"t":6482,"v":154},{"t":6498,"v":155},{"t":6506,"v":156},{"t":6514,"v":157},{"t":6552,"v":155},{"t":6566,"v":156},{"t":6574,"v":157},{"t":6592,"v":157}
    ]
  },
  "encoding": {
    "x": {
      "field": "t",
      "type": "quantitative",
      "title": null,
      "scale": {"domain": [0, 6592], "nice": false, "zero": false},
      "axis": {
        "values": [1200, 2400, 3600, 4800, 6000],
        "labelExpr": "utcFormat(datum.value * 1000, '%H:%M:%S')",
        "domain": false,
        "ticks": false,
        "grid": true,
        "labelPadding": 6
      }
    },
    "y": {
      "field": "v",
      "type": "quantitative",
      "title": null,
      "scale": {"domain": [105, 180], "nice": false, "zero": false},
      "axis": {
        "values": [105, 130, 155, 180],
        "domain": true,
        "domainColor": "#222222",
        "domainWidth": 1.3,
        "ticks": false,
        "grid": true,
        "labelPadding": 5
      }
    }
  },
  "layer": [
    {
      "data": {"name": "ref"},
      "mark": {"type": "line", "strokeWidth": 2, "interpolate": "linear"},
      "encoding": {
        "color": {
          "datum": "Mesure de référence",
          "scale": {
            "domain": ["Mesure de référence", "Apple Watch Series 11"],
            "range": ["#4285F4", "#DB4437"]
          },
          "legend": {
            "title": null,
            "orient": "none",
            "legendX": 749,
            "legendY": 9,
            "direction": "horizontal",
            "symbolType": "stroke",
            "symbolSize": 100,
            "symbolStrokeWidth": 3.5,
            "labelFontSize": 16,
            "labelLimit": 400,
            "labelColor": "#999999",
            "labelOffset": 6,
            "columnPadding": 3,
            "padding": 0
          }
        }
      }
    },
    {
      "data": {"name": "aw"},
      "mark": {"type": "line", "strokeWidth": 1.6, "interpolate": "step-after"},
      "encoding": {
        "color": {"datum": "Apple Watch Series 11"}
      }
    }
  ],
  "config": {
    "font": "Liberation Sans",
    "view": {"stroke": null},
    "axis": {
      "gridColor": "#d6d6d6",
      "gridWidth": 1,
      "labelFontSize": 10,
      "labelColor": "#555555",
      "labelFont": "Liberation Sans"
    },
    "legend": {"labelFont": "Liberation Sans"}
  }
}
